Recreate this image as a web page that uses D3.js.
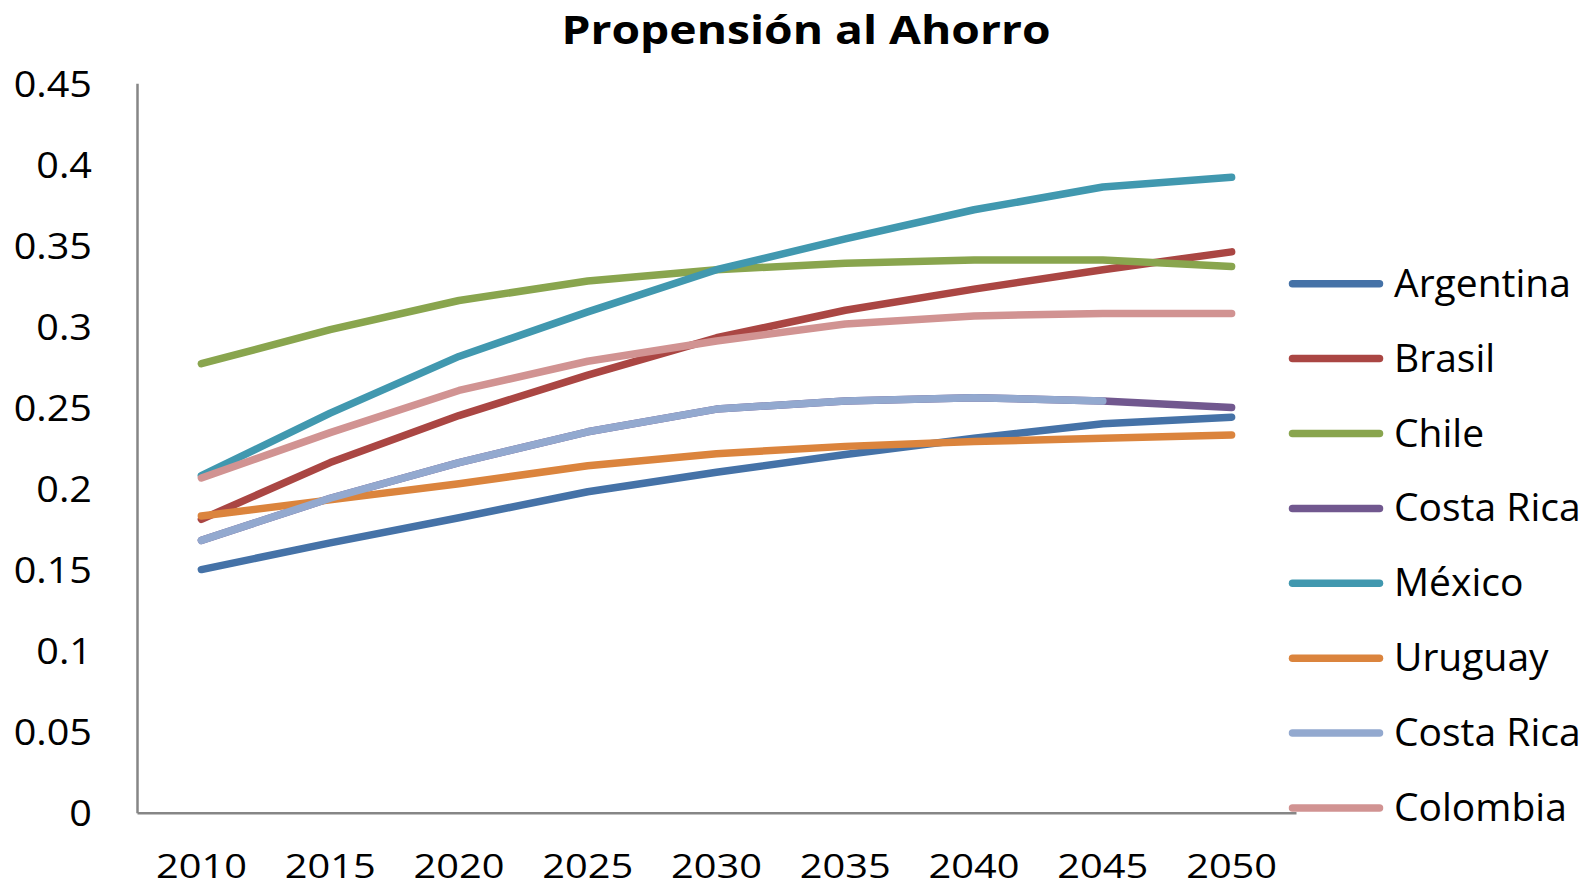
<!DOCTYPE html>
<html>
<head>
<meta charset="utf-8">
<script src="https://cdn.jsdelivr.net/npm/d3@7"></script>
<style>
  html, body { margin: 0; padding: 0; background: #fff; }
  svg { display: block; }
  text { font-family: "Open Sans", "DejaVu Sans", sans-serif; fill: #000; }
</style>
</head>
<body>
<svg id="chart" width="1589" height="889"></svg>
<script>
// Years on the horizontal axis
const years = ["2010", "2015", "2020", "2025", "2030", "2035", "2040", "2045", "2050"];

// Savings propensity per country
const argentina  = [0.150, 0.1665, 0.182, 0.198, 0.210, 0.221, 0.231, 0.240, 0.244];
const brasil     = [0.181, 0.216, 0.245, 0.270, 0.293, 0.310, 0.323, 0.335, 0.346];
const chile      = [0.277, 0.298, 0.316, 0.328, 0.335, 0.339, 0.341, 0.341, 0.337];
const costaRica  = [0.168, 0.194, 0.216, 0.235, 0.249, 0.254, 0.256, 0.254, 0.250];
const mexico     = [0.208, 0.2465, 0.2815, 0.309, 0.335, 0.354, 0.372, 0.386, 0.392];
const uruguay    = [0.183, 0.193, 0.203, 0.214, 0.2215, 0.226, 0.229, 0.231, 0.233];
const costaRica2 = [0.168, 0.194, 0.216, 0.235, 0.249, 0.254, 0.256, 0.254, null];
const colombia   = [0.2065, 0.2345, 0.2605, 0.2785, 0.291, 0.3015, 0.3065, 0.308, 0.308];

// Y axis tick labels
const yTicks = [0, 0.05, 0.1, 0.15, 0.2, 0.25, 0.3, 0.35, 0.4, 0.45];
const yTickLabels = ["0", "0.05", "0.1", "0.15", "0.2", "0.25", "0.3", "0.35", "0.4", "0.45"];

const seriesNames  = ["Argentina", "Brasil", "Chile", "Costa Rica", "México", "Uruguay", "Costa Rica", "Colombia"];
const seriesValues = [argentina, brasil, chile, costaRica, mexico, uruguay, costaRica2, colombia];
const seriesColors = ["#4572A7", "#AA4643", "#89A54E", "#71588F", "#4198AF", "#DB843D", "#93A9CF", "#D19392"];

const svg = d3.select("#chart");

const plot = { left: 137, right: 1296, top: 83.3, bottom: 812.7 };

const x = d3.scaleBand().domain(years).range([plot.left, plot.right]);
const y = d3.scaleLinear().domain([0, 0.45]).range([plot.bottom, plot.top]);

// Stretch text horizontally to a given width
function fitWidth(sel, width) {
  sel.attr("textLength", width).attr("lengthAdjust", "spacingAndGlyphs");
}

// Title
svg.append("text")
  .attr("x", 806)
  .attr("y", 43.5)
  .attr("text-anchor", "middle")
  .style("font-size", "40px")
  .style("font-weight", "700")
  .text("Propensión al Ahorro")
  .call(fitWidth, 489);

// Y axis
const yAxis = d3.axisLeft(y)
  .tickValues(yTicks)
  .tickFormat((d, i) => yTickLabels[i])
  .tickSize(0)
  .tickPadding(45);

const gy = svg.append("g")
  .attr("transform", `translate(${plot.left},0)`)
  .call(yAxis);
gy.select(".domain").attr("stroke", "#868686").attr("stroke-width", 2.5);
gy.selectAll(".tick text")
  .style("font-size", "36px")
  .attr("dy", "0.36em")
  .each(function () {
    const t = d3.select(this);
    const len = this.getComputedTextLength();
    t.call(fitWidth, len * 1.1);
  });

// X axis
const xAxis = d3.axisBottom(x).tickSize(0).tickPadding(65);
const gx = svg.append("g")
  .attr("transform", `translate(0,${plot.bottom})`)
  .call(xAxis);
gx.select(".domain").attr("stroke", "#868686").attr("stroke-width", 2.5);
gx.selectAll(".tick text")
  .style("font-size", "33px")
  .attr("dy", "0")
  .call(fitWidth, 91);

// Series lines
const line = d3.line()
  .defined(d => d.v !== null)
  .x(d => x(d.year) + x.bandwidth() / 2)
  .y(d => y(d.v));

seriesValues.forEach((vals, i) => {
  const pts = years.map((yr, j) => ({ year: yr, v: vals[j] }));
  svg.append("path")
    .datum(pts)
    .attr("fill", "none")
    .attr("stroke", seriesColors[i])
    .attr("stroke-width", 7.5)
    .attr("stroke-linecap", "round")
    .attr("stroke-linejoin", "round")
    .attr("d", line);
});

// Legend
const legend = svg.append("g");
seriesNames.forEach((name, i) => {
  const ly = 283.7 + i * 74.9;
  legend.append("line")
    .attr("x1", 1292.5).attr("x2", 1379.5)
    .attr("y1", ly).attr("y2", ly)
    .attr("stroke", seriesColors[i])
    .attr("stroke-width", 7.5)
    .attr("stroke-linecap", "round");
  legend.append("text")
    .attr("x", 1394)
    .attr("y", ly + 13)
    .style("font-size", "39px")
    .text(name);
});
</script>
</body>
</html>
